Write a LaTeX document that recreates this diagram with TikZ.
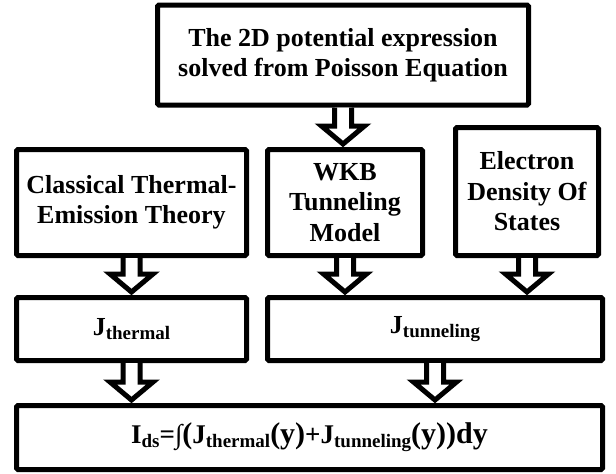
\documentclass[tikz,border=0pt]{standalone}
\usepackage{fontspec}
\setmainfont{Liberation Serif}
\usetikzlibrary{calc}
\newcommand{\subtxt}[1]{\raisebox{-4pt}{\fontsize{19}{19}\selectfont #1}}
\newcommand{\bigtxt}[1]{{\fontsize{30}{30}\selectfont #1}}
\newcommand{\blockarrow}[2]{%
  \draw[barrow] let \p1=(#1.south), \p2=(#1.south |- #2.north) in
    (\x1-8.5pt,\y1) -- (\x1-8.5pt,\y2+21pt) -- (\x1-21.5pt,\y2+21pt) --
    (\x1,\y2+3pt) -- (\x1+21.5pt,\y2+21pt) -- (\x1+8.5pt,\y2+21pt) -- (\x1+8.5pt,\y1);}
\tikzset{
  box/.style={draw, line width=5pt, rounded corners=1.5pt, fill=white, align=center,
    inner sep=0pt, font=\fontsize{26}{30.5}\selectfont\bfseries},
  barrow/.style={draw, line width=5pt, fill=white, line join=miter, miter limit=10}
}
\begin{document}
\begin{tikzpicture}[x=1pt,y=1pt]
\useasboundingbox (0,0) rectangle (616,-474);
\node[box, minimum width=371pt, minimum height=100pt] (pot) at (343,-55)
  {The 2D potential expression\\solved from Poisson Equation};
\node[box, minimum width=230pt, minimum height=106pt] (cls) at (131.5,-202.5)
  {Classical Thermal-\\Emission Theory};
\node[box, minimum width=155pt, minimum height=106pt] (wkb) at (345,-202.5)
  {WKB\\Tunneling\\Model};
\node[box, minimum width=143pt, minimum height=128pt] (eds) at (527,-191.5)
  {Electron\\Density Of\\States};
\node[box, minimum width=230pt, minimum height=63pt] (jth) at (131.5,-329)
  {J\subtxt{thermal}};
\node[box, minimum width=335pt, minimum height=63pt] (jtu) at (435,-329)
  {J\subtxt{tunneling}};
\node[box, minimum width=586pt, minimum height=64pt] (ids) at (309.5,-437.5)
  {\fontsize{27}{30}\selectfont I\subtxt{ds}=∫\bigtxt{(}J\subtxt{thermal}\bigtxt{(y)}+J\subtxt{tunneling}\bigtxt{(y))dy}};
\blockarrow{pot}{wkb}
\blockarrow{cls}{jth}
\blockarrow{wkb}{jtu}
\blockarrow{eds}{jtu}
\blockarrow{jth}{ids}
\blockarrow{jtu}{ids}
\end{tikzpicture}
\end{document}
